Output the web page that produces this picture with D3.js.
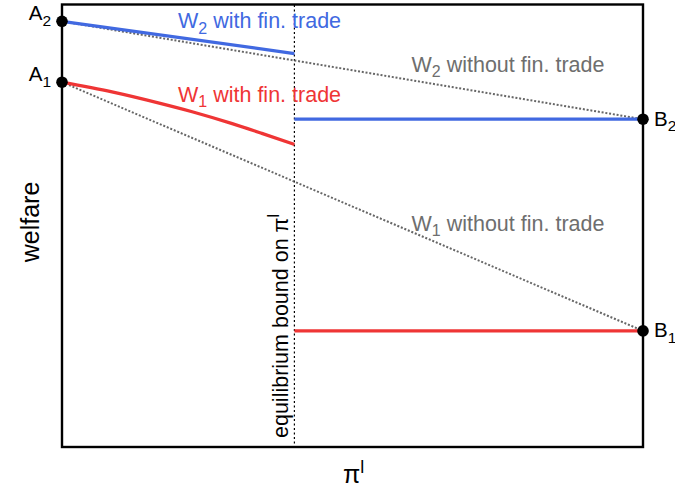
<!DOCTYPE html>
<html>
<head>
<meta charset="utf-8">
<script src="https://cdn.jsdelivr.net/npm/d3@7"></script>
<style>
  html, body { margin: 0; padding: 0; background: #fff; }
  svg { display: block; }
  text { font-family: "Liberation Sans", Arial, Helvetica, sans-serif; }
</style>
</head>
<body>
<svg id="chart" width="675" height="491"></svg>
<script>
// ---------- data (x: pi^l in [0,1], y: welfare in arbitrary units 0..100) ----------
const piBound = 0.40;
const pointsA = [
  { name: "A", sub: "2", x: 0, y: 96.3 },
  { name: "A", sub: "1", x: 0, y: 82.5 }
];
const pointsB = [
  { name: "B", sub: "2", x: 1, y: 74.1 },
  { name: "B", sub: "1", x: 1, y: 26.1 }
];
const w2WithTradeLeft  = [[0, 96.3], [0.40, 89.0]];
const w2WithTradeRight = [[0.40, 74.1], [1, 74.1]];
const w1WithTradeLeft  = [[0, 82.5], [0.086, 80.3], [0.169, 77.7], [0.224, 75.8], [0.293, 73.1], [0.344, 70.9], [0.40, 68.4]];
const w1WithTradeRight = [[0.40, 26.1], [1, 26.1]];
const w2WithoutTrade   = [[0, 96.3], [1, 74.1]];
const w1WithoutTrade   = [[0, 82.5], [1, 26.1]];

// ---------- drawing ----------
const svg = d3.select("#chart");
const x = d3.scaleLinear().domain([0, 1]).range([62, 643]);
const y = d3.scaleLinear().domain([0, 100]).range([446, 5]);

const BLUE = "#4169e1", RED = "#ef3535", GRAY = "#6e6e6e";
const line = d3.line().x(d => x(d[0])).y(d => y(d[1]));
const curve = d3.line().x(d => x(d[0])).y(d => y(d[1])).curve(d3.curveMonotoneX);

// equilibrium bound (vertical dotted)
svg.append("line")
  .attr("x1", x(piBound)).attr("x2", x(piBound))
  .attr("y1", 5).attr("y2", 447)
  .attr("stroke", "#000").attr("stroke-width", 1.2)
  .attr("stroke-dasharray", "2,2.5");

// without-trade dotted lines
[w2WithoutTrade, w1WithoutTrade].forEach(d => {
  svg.append("path").attr("d", line(d))
    .attr("fill", "none").attr("stroke", "#666")
    .attr("stroke-width", 2).attr("stroke-dasharray", "2,1.8");
});

// with-trade solid lines
svg.append("path").attr("d", line(w2WithTradeLeft)).attr("fill", "none").attr("stroke", BLUE).attr("stroke-width", 3.3);
svg.append("path").attr("d", line(w2WithTradeRight)).attr("fill", "none").attr("stroke", BLUE).attr("stroke-width", 3.3);
svg.append("path").attr("d", curve(w1WithTradeLeft)).attr("fill", "none").attr("stroke", RED).attr("stroke-width", 3.3);
svg.append("path").attr("d", line(w1WithTradeRight)).attr("fill", "none").attr("stroke", RED).attr("stroke-width", 3.3);

// frame
svg.append("rect")
  .attr("x", x(0)).attr("y", 4.5)
  .attr("width", x(1) - x(0)).attr("height", 442.5)
  .attr("fill", "none").attr("stroke", "#000").attr("stroke-width", 2.4);

// endpoints
svg.selectAll("circle.pt").data(pointsA.concat(pointsB)).enter()
  .append("circle").attr("class", "pt")
  .attr("cx", d => x(d.x)).attr("cy", d => y(d.y)).attr("r", 5.8)
  .attr("fill", "#000");

// point labels
pointsA.forEach(d => {
  const t = svg.append("text").attr("x", 51).attr("y", y(d.y) - 1)
    .attr("font-size", 20.5).attr("text-anchor", "end").attr("fill", "#000");
  t.append("tspan").text(d.name);
  t.append("tspan").attr("dy", 5.5).attr("font-size", 15.5).text(d.sub);
});
pointsB.forEach(d => {
  const t = svg.append("text").attr("x", 654).attr("y", y(d.y) + 6.5)
    .attr("font-size", 20.5).attr("text-anchor", "start").attr("fill", "#000");
  t.append("tspan").text(d.name);
  t.append("tspan").attr("dy", 5.5).attr("font-size", 15.5).text(d.sub);
});

// series labels
function seriesLabel(sub, rest, px, py, color) {
  const t = svg.append("text").attr("x", px).attr("y", py)
    .attr("font-size", 21.5).attr("fill", color);
  t.append("tspan").text("W");
  t.append("tspan").attr("dy", 5.5).attr("font-size", 16).text(sub);
  t.append("tspan").attr("dy", -5.5).text(rest);
}
seriesLabel("2", " with fin. trade", 178, 28, BLUE);
seriesLabel("1", " with fin. trade", 178, 101.5, RED);
seriesLabel("2", " without fin. trade", 411.5, 71.5, GRAY);
seriesLabel("1", " without fin. trade", 411.5, 230.5, GRAY);

// vertical bound label
const vb = svg.append("text")
  .attr("transform", `translate(${x(piBound) - 6},438) rotate(-90)`)
  .attr("font-size", 21.5).attr("fill", "#000");
vb.append("tspan").text("equilibrium bound on \u03c0");
vb.append("tspan").attr("dy", -9).attr("font-size", 16).text("l");

// axis labels
svg.append("text")
  .attr("transform", `translate(38.5,222) rotate(-90)`)
  .attr("text-anchor", "middle").attr("font-size", 25).attr("fill", "#000")
  .text("welfare");

const xl = svg.append("text").attr("x", 343).attr("y", 483)
  .attr("font-size", 25).attr("fill", "#000");
xl.append("tspan").text("\u03c0");
xl.append("tspan").attr("dy", -10).attr("font-size", 18).text("l");
</script>
</body>
</html>
